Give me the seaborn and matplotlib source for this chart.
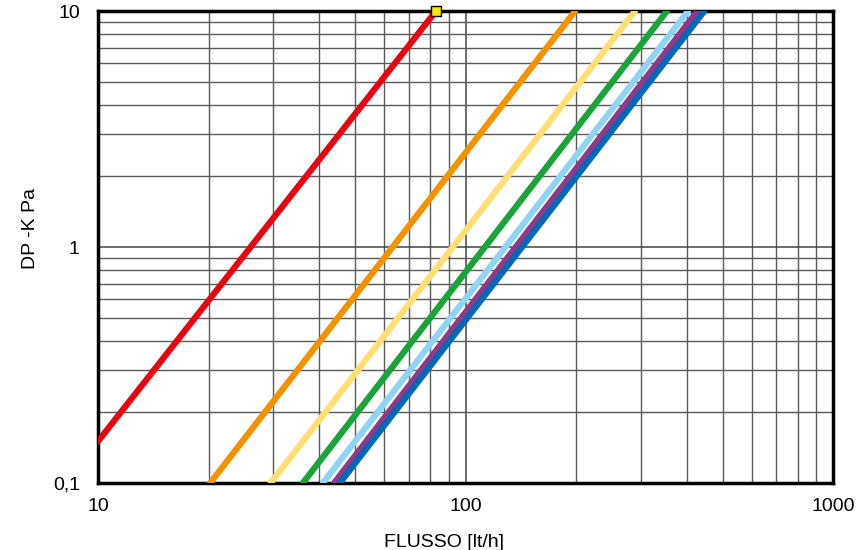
import matplotlib.pyplot as plt
import matplotlib.ticker as mticker
import pandas as pd
import seaborn as sns

# endpoints of each curve (flow lt/h, pressure drop kPa)
series = ['red', 'orange', 'yellow', 'green', 'lightblue', 'purple', 'blue']
flow = [[10, 83.1], [20.2, 198.6], [29.5, 289], [36.1, 353], [40.9, 403], [43.9, 427], [45.5, 446]]
dp = [[0.15, 10], [0.1, 10], [0.1, 10], [0.1, 10], [0.1, 10], [0.1, 10], [0.1, 10]]
colors = ['#E30613', '#F39200', '#FFDE75', '#1BA23A', '#8FD3F5', '#8E3A8C', '#0069B4']

marker_flow = [83.1]
marker_dp = [10]

rows = []
for name, xs, ys in zip(series, flow, dp):
    for x, y in zip(xs, ys):
        rows.append({'serie': name, 'flusso': x, 'dp': y})
df = pd.DataFrame(rows)

sns.set_style('white')
plt.rcParams['font.family'] = ['Liberation Sans', 'DejaVu Sans']
plt.rcParams['text.color'] = 'black'

fig = plt.figure(figsize=(8.59, 5.5), dpi=100)
ax = fig.add_axes([0.114, 0.1218, 0.856, 0.8582])

sns.lineplot(data=df, x='flusso', y='dp', hue='serie', palette=colors,
             linewidth=4.5, legend=False, ax=ax, zorder=3)
ax.set_xscale('log')
ax.set_yscale('log')
ax.set_xlim(10, 1000)
ax.set_ylim(0.1, 10)

ax.scatter(marker_flow, marker_dp, marker='s', s=55, color='#F5E614',
           edgecolor='black', linewidth=1, zorder=5, clip_on=False)

ax.grid(which='major', color='#444444', linewidth=1.1)
ax.grid(which='minor', color='#5a5a5a', linewidth=1)
ax.set_axisbelow(True)

ax.xaxis.set_major_locator(mticker.FixedLocator([10, 100, 1000]))
ax.xaxis.set_major_formatter(mticker.FixedFormatter(['10', '100', '1000']))
ax.yaxis.set_major_locator(mticker.FixedLocator([0.1, 1, 10]))
ax.yaxis.set_major_formatter(mticker.FixedFormatter(['0,1', '1', '10']))
ax.xaxis.set_minor_locator(mticker.LogLocator(subs=range(2, 10)))
ax.yaxis.set_minor_locator(mticker.LogLocator(subs=range(2, 10)))
ax.xaxis.set_minor_formatter(mticker.NullFormatter())
ax.yaxis.set_minor_formatter(mticker.NullFormatter())
ax.tick_params(which='major', length=5, width=1, direction='out', labelsize=14,
               colors='black', labelcolor='black')
ax.tick_params(axis='x', which='major', pad=6)
ax.tick_params(axis='y', which='major', pad=8)
ax.tick_params(which='minor', length=3, width=0.8, direction='out', colors='#555555')

for s in ax.spines.values():
    s.set_color('black')
    s.set_linewidth(2.5)

ax.set_xlabel('FLUSSO [lt/h]', fontsize=14, color='black')
ax.set_ylabel('DP -K Pa', fontsize=14, color='black')
ax.xaxis.set_label_coords(0.47, -0.108)
ax.yaxis.set_label_coords(-0.08, 0.54)

fig.savefig('out.png', dpi=100)
